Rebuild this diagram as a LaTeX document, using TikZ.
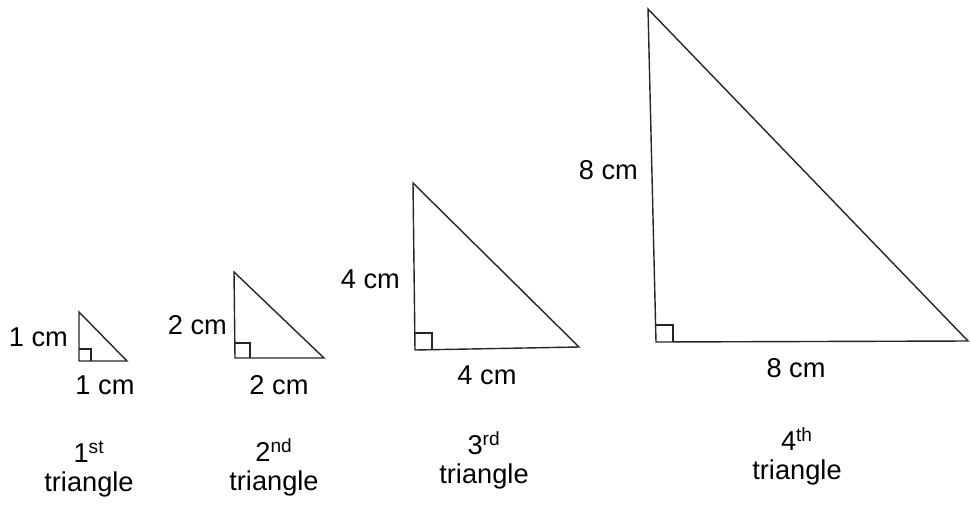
\documentclass[tikz,border=0pt]{standalone}
\usepackage{fontspec}
\setmainfont{Liberation Sans}
\usepackage{tikz}
\usetikzlibrary{calc,positioning}
\tikzset{
    % triangle sides
    side/.style={line width=0.8pt, black!85, line join=miter},
    % small right-angle box
    rightbox/.style={line width=0.6pt, black!85},
    % side lengths and captions
    lenlabel/.style={font=\fontsize{15.5}{17}\selectfont, inner sep=1pt},
    caption/.style={font=\fontsize{15.5}{16.5}\selectfont, align=center, inner sep=0pt},
}
\begin{document}
\begin{tikzpicture}[x=0.02cm,y=-0.02cm]
  \useasboundingbox (0,0) rectangle (970,504);
  % corners of the four triangles (top, right angle, right end)
  \coordinate (t1) at (79,312);  \coordinate (o1) at (79,361);  \coordinate (r1) at (127,361);
  \coordinate (t2) at (234,272); \coordinate (o2) at (235,358); \coordinate (r2) at (324,358);
  \coordinate (t3) at (413,183); \coordinate (o3) at (415,350); \coordinate (r3) at (579,347);
  \coordinate (t4) at (648,9);   \coordinate (o4) at (656,342); \coordinate (r4) at (968,341);
  % the triangles
  \draw[side] (t1)--(o1)--(r1)--cycle;
  \draw[side] (t2)--(o2)--(r2)--cycle;
  \draw[side] (t3)--(o3)--(r3)--cycle;
  \draw[side] (t4)--(o4)--(r4)--cycle;
  % right angles
  \draw[rightbox] ($(o1)+(0,-12)$) -| ($(o1)+(12,0)$);
  \draw[rightbox] ($(o2)+(0,-15)$) -| ($(o2)+(15,0)$);
  \draw[rightbox] ($(o3)+(0,-17)$) -| ($(o3)+(17,0)$);
  \draw[rightbox] ($(o4)+(0,-17)$) -| ($(o4)+(17,0)$);
  % vertical sides
  \node[lenlabel, anchor=east] (v1) at (70,337) {1 cm};
  \node[lenlabel, anchor=east] (v2) at (229,325) {2 cm};
  \node[lenlabel, anchor=east] (v3) at (402,279) {4 cm};
  \node[lenlabel, anchor=east] (v4) at (640,170) {8 cm};
  % horizontal sides
  \node[lenlabel] (h1) at (105,385) {1 cm};
  \node[lenlabel] (h2) at (279,385) {2 cm};
  \node[lenlabel] (h3) at (487,375) {4 cm};
  \node[lenlabel] (h4) at (796,368) {8 cm};
  % captions
  \node[caption] (c1) at (89,469) {1\textsuperscript{st}\\triangle};
  \node[caption] (c2) at (274,467) {2\textsuperscript{nd}\\triangle};
  \node[caption] (c3) at (484,460) {3\textsuperscript{rd}\\triangle};
  \node[caption] (c4) at (797,456) {4\textsuperscript{th}\\triangle};
\end{tikzpicture}
\end{document}
